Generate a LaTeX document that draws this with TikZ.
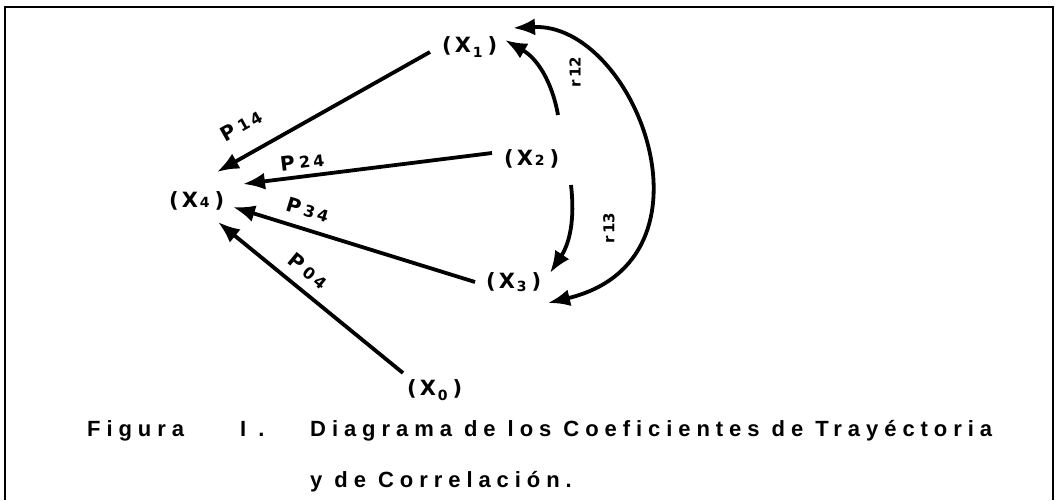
\documentclass[tikz,border=0pt]{standalone}
\usepackage{fontspec}
\setmainfont{DejaVu Sans}
\newfontfamily\capfont{Liberation Sans}[LetterSpace=27]
\usetikzlibrary{arrows.meta}

% variable label: (X_i) with the index lowered by #2
\newcommand{\varx}[2]{(\kern3pt X\kern2pt\raisebox{#2}{\fontsize{14}{14}\selectfont #1}\kern5pt)}
% path coefficient label
\newcommand{\coef}[2]{P\kern4pt{\fontsize{16}{16}\selectfont #1\kern3pt #2}}

\begin{document}
\begin{tikzpicture}[x=1pt, y=-1pt,
    var/.style={anchor=base west, inner sep=0pt, font=\bfseries\fontsize{21}{21}\selectfont},
    coefarrow/.style={line width=3.8pt, -{Latex[length=22pt,width=17pt]}},
    corrarrow/.style={line width=3.8pt, -{Latex[length=22pt,width=17pt]}},
    coeflabel/.style={sloped, inner sep=0pt, font=\bfseries\fontsize{20}{20}\selectfont},
    corrlabel/.style={rotate=90, inner sep=0pt, font=\bfseries\fontsize{15}{15}\selectfont},
    caption/.style={anchor=base west, inner sep=0pt, font=\capfont\bfseries\fontsize{22}{22}\selectfont}]

    % Frame
    \useasboundingbox (0,0) rectangle (1056,500);
    \draw[line width=2.5pt] (5,500) -- (5,7) -- (1053,7) -- (1053,500);

    % Variables
    \node[var] (x1) at (442,53) {\varx{1}{-5pt}};
    \node[var] (x2) at (504,165) {\varx{2}{0pt}};
    \node[var] (x3) at (486,288) {\varx{3}{-3pt}};
    \node[var] (x4) at (169,207) {\varx{4}{0pt}};
    \node[var] (x0) at (407,395) {\varx{0}{-5pt}};

    % Path coefficients
    \draw[coefarrow] ([shift={(-12,-1)}]x1.base west) --
        node[coeflabel, pos=0.82, above=20pt] (p14) {\coef{1}{4}} ([shift={(48,-35)}]x4.base west);
    \draw[coefarrow] ([shift={(-12,-12)}]x2.base west) --
        node[coeflabel, pos=0.755, above=6pt] (p24) {\coef{2}{4}} ([shift={(74,-23)}]x4.base west);
    \draw[coefarrow] ([shift={(-11,-6)}]x3.base west) --
        node[coeflabel, pos=0.715, above=10pt] (p34) {\coef{3}{4}} ([shift={(64,0)}]x4.base west);
    \draw[coefarrow] ([shift={(-4,-22)}]x0.base west) --
        node[coeflabel, pos=0.578, above=10pt] (p04) {\coef{0}{4}} ([shift={(49,15)}]x4.base west);

    % Correlations
    \draw[corrarrow] ([shift={(54,-50)}]x2.base west) to[bend right=25] ([shift={(63,-13)}]x1.base west);
    \draw[corrarrow] ([shift={(67,20)}]x2.base west) to[bend left=20] ([shift={(64,-15)}]x3.base west);
    \draw[corrarrow, {Latex[length=22pt,width=17pt]}-{Latex[length=22pt,width=17pt]}]
        ([shift={(71,-25)}]x1.base west) .. controls ([shift={(193,-31)}]x1.base west)
        and ([shift={(241,-28)}]x3.base west) .. ([shift={(62,15)}]x3.base west);
    \node[corrlabel] (r12) at (575,72) {r\kern2pt 12};
    \node[corrlabel] (r13) at (609,228) {r\kern2pt 13};

    % Caption
    \node[caption] (fig) at (87,436) {Figura};
    \node[caption] (num) at (240,436) {I .};
    \node[caption] (cap1) at (310,436) {Diagrama de los Coeficientes de Trayéctoria};
    \node[caption] (cap2) at (310,487) {y de Correlación.};
\end{tikzpicture}
\end{document}
